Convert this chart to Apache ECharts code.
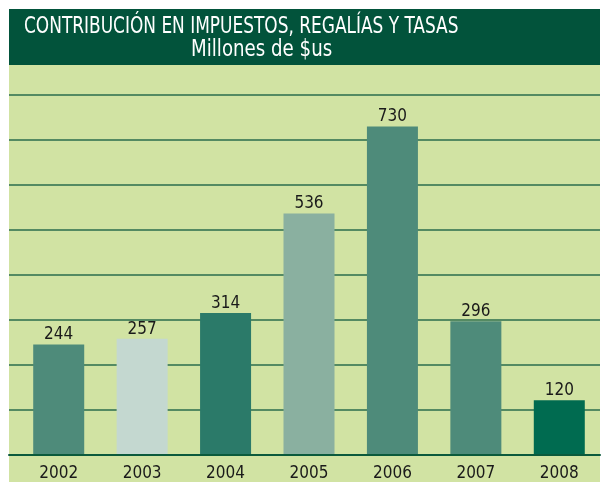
<!DOCTYPE html>
<html>
<head>
<meta charset="utf-8">
<script src="https://cdn.jsdelivr.net/npm/echarts@6/dist/echarts.min.js"></script>
<style>
  html, body { margin: 0; padding: 0; background: #fff; }
  #chart { width: 606px; height: 482px; }
</style>
</head>
<body>
<div id="chart"></div>
<script>
// años y montos (millones de $us)
var years = ["2002", "2003", "2004", "2005", "2006", "2007", "2008"];
var values = [244, 257, 314, 536, 730, 296, 120];
var barColors = ["#4e8b7a", "#c4d8d0", "#2b7a69", "#8ab0a0", "#4e8b7a", "#4e8b7a", "#006b50"];
var yTicks = [0, 100, 200, 300, 400, 500, 600, 700, 800];

var titleText = "CONTRIBUCIÓN EN IMPUESTOS, REGALÍAS Y TASAS";
var subText = "Millones de $us";
var font = "'DejaVu Sans Condensed', sans-serif";

var myChart = echarts.init(document.getElementById("chart"));

var options = {
  backgroundColor: "#ffffff",
  animation: false,
  graphic: [
    // panel verde claro
    {
      type: "rect", z: -10,
      shape: { x: 9, y: 65, width: 591, height: 417 },
      style: { fill: "#d1e3a3" }
    },
    // barra del titulo
    {
      type: "rect", z: -10,
      shape: { x: 9, y: 9, width: 591, height: 56 },
      style: { fill: "#02533b" }
    },
    {
      type: "text", x: 24, y: 27, scaleX: 0.82,
      style: { text: titleText, fill: "#ffffff", font: "23px " + font, textVerticalAlign: "middle" }
    },
    {
      type: "text", x: 191, y: 50, scaleX: 0.88,
      style: { text: subText, fill: "#ffffff", font: "23px " + font, textVerticalAlign: "middle" }
    }
  ],
  grid: [
    // rejilla de fondo (lineas horizontales)
    { left: 9, right: 6, top: 95, bottom: 27 },
    // barras
    { left: 17, right: 5, top: 95, bottom: 27 }
  ],
  xAxis: [
    {
      gridIndex: 0,
      type: "category",
      data: years,
      z: 5,
      axisLine: { show: true, lineStyle: { color: "#0b5a3c", width: 2 } },
      axisTick: { show: false },
      axisLabel: { show: false },
      splitLine: { show: false }
    },
    {
      gridIndex: 1,
      type: "category",
      data: years,
      axisLine: { show: false },
      axisTick: { show: false },
      axisLabel: {
        color: "#1a1a1a",
        fontSize: 17,
        fontFamily: font,
        margin: 11
      }
    }
  ],
  yAxis: [
    {
      gridIndex: 0,
      type: "value",
      min: yTicks[0],
      max: yTicks[yTicks.length - 1],
      interval: 100,
      axisLine: { show: false },
      axisTick: { show: false },
      axisLabel: { show: false },
      splitLine: { show: true, lineStyle: { color: "#2a6d4c", width: 1.5 } }
    },
    {
      gridIndex: 1,
      type: "value",
      min: yTicks[0],
      max: yTicks[yTicks.length - 1],
      interval: 100,
      axisLine: { show: false },
      axisTick: { show: false },
      axisLabel: { show: false },
      splitLine: { show: false }
    }
  ],
  series: [
    {
      type: "bar",
      xAxisIndex: 1,
      yAxisIndex: 1,
      barWidth: 51,
      data: values.map(function (v, i) {
        return { value: v, itemStyle: { color: barColors[i] } };
      }),
      label: {
        show: true,
        position: "top",
        distance: 1,
        color: "#1a1a1a",
        fontSize: 17,
        fontFamily: font
      }
    }
  ]
};

myChart.setOption(options);
</script>
</body>
</html>
